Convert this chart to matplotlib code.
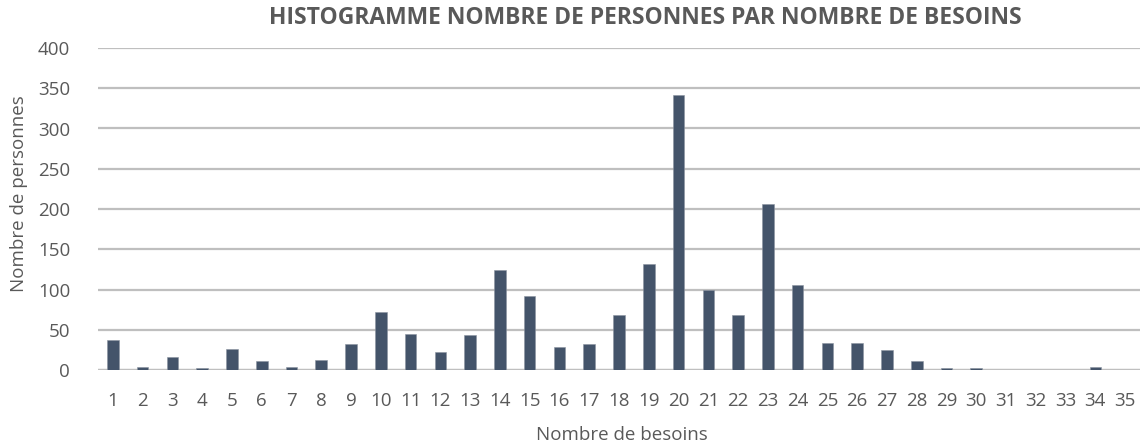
import matplotlib
matplotlib.use("Agg")
import matplotlib.pyplot as plt

categories = list(range(1, 36))
values = [37, 4, 16, 2, 26, 11, 4, 13, 32, 72,
          45, 22, 43, 124, 92, 28, 32, 68, 132, 341,
          100, 68, 206, 106, 33, 33, 25, 11, 2, 3,
          0, 0, 0, 4, 0]
yticks = [0, 50, 100, 150, 200, 250, 300, 350, 400]

plt.rcParams['font.family'] = ['Open Sans', 'DejaVu Sans']
text_col = '#595959'

fig = plt.figure(figsize=(11.46, 4.44), dpi=100)
ax = fig.add_axes([98/1146, 1-370/444, (1140-98)/1146, (370-48)/444])

x = list(range(len(categories)))
ax.bar(x, values, width=0.39, color='#44546A', edgecolor='#8a93a0', linewidth=0.4, zorder=3)
ax.set_xlim(-0.5, len(categories)-0.5)
ax.set_ylim(0, 400)
ax.set_yticks(yticks)
ax.set_xticks(x)
ax.set_xticklabels([str(c) for c in categories])
ax.yaxis.grid(True, color='#BFBFBF', linewidth=1.6, zorder=0)
ax.set_axisbelow(True)
for s in ax.spines.values():
    s.set_visible(False)
ax.axhline(0, color='#BFBFBF', linewidth=1.6, zorder=2)
ax.tick_params(axis='both', length=0, labelsize=13.5, colors=text_col)
ax.tick_params(axis='y', pad=20)
ax.tick_params(axis='x', pad=16)

fig.text(645/1146, 1-18/444, 'HISTOGRAMME NOMBRE DE PERSONNES PAR NOMBRE DE BESOINS',
         ha='center', va='center', fontsize=16.5, fontweight='bold', color=text_col)
fig.text(19/1146, 1-194/444, 'Nombre de personnes', rotation=90, ha='center', va='center',
         fontsize=13.5, color=text_col)
fig.text(622/1146, 1-435/444, 'Nombre de besoins', ha='center', va='center',
         fontsize=13.5, color=text_col)

fig.savefig('out.png', dpi=100)
